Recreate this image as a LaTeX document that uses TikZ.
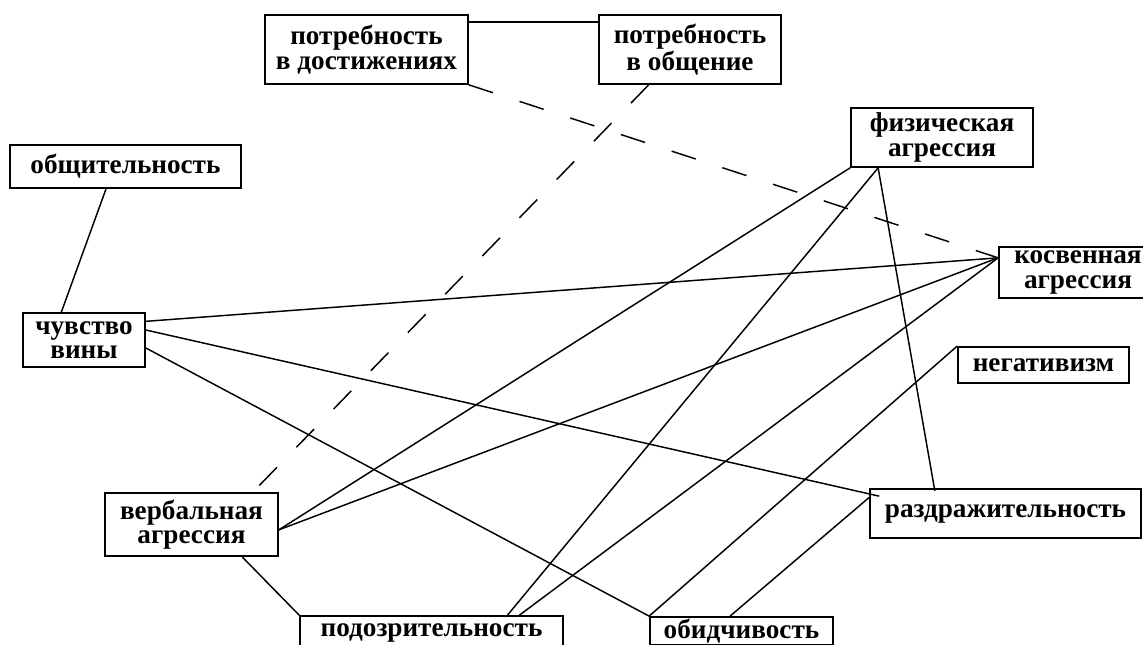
\documentclass[tikz,border=0pt]{standalone}
\usepackage{fontspec}
\setmainfont{Liberation Serif}
\usetikzlibrary{calc}

\begin{document}
\begin{tikzpicture}[
    x=0.75pt, y=-0.75pt,
    every node/.style = {font=\bfseries\fontsize{20.4}{18.5}\selectfont},
    box/.style      = {rectangle, draw, line width=1.3pt, align=center,
                       inner sep=0pt},
    solidlink/.style = {line width=1.1pt},
    dashedlink/.style = {line width=1.1pt, dash pattern=on 19pt off 21pt}
  ]
  \useasboundingbox (0,0) rectangle (1143,645);
  \clip (0,0) rectangle (1143,645);

  % boxes
  \node[box, minimum width=203*0.75pt, minimum height=69*0.75pt] (dost)  at (366.5,49.5) {потребность\\в достижениях};
  \node[box, minimum width=182*0.75pt, minimum height=69*0.75pt] (obsch) at (690,49.5)   {потребность\\в общение};
  \node[box, minimum width=231*0.75pt, minimum height=43*0.75pt] (obshit) at (125.5,166.5) {общительность};
  \node[box, minimum width=182*0.75pt, minimum height=59*0.75pt] (fiz)   at (942,137.5)  {физическая\\агрессия};
  \node[box, minimum width=158*0.75pt, minimum height=51*0.75pt] (kosv)  at (1078,272.5) {косвенная\\агрессия};
  \node[box, minimum width=122*0.75pt, minimum height=54*0.75pt] (vina)  at (84,340)     {чувство\\вины};
  \node[box, minimum width=171*0.75pt, minimum height=36*0.75pt] (neg)   at (1043.5,365) {негативизм};
  \node[box, minimum width=173*0.75pt, minimum height=63*0.75pt] (verb)  at (191.5,524.5) {вербальная\\агрессия};
  \node[box, minimum width=271*0.75pt, minimum height=49*0.75pt] (razd)  at (1005.5,513.5) {раздражительность};
  \node[box, minimum width=263*0.75pt, minimum height=34*0.75pt] (podoz) at (431.5,633)  {подозрительность};
  \node[box, minimum width=183*0.75pt, minimum height=28*0.75pt] (obid)  at (741.5,631)  {обидчивость};

  % shared ends
  \coordinate (kosvin)  at ([yshift=11pt]kosv.west);
  \coordinate (verbout) at ([yshift=-4pt]verb.east);
  \coordinate (fizout)  at ([xshift=21pt]fiz.south west);

  % links
  \draw[solidlink] ([yshift=-6pt]dost.north east) -- ([yshift=-6pt]obsch.north west);
  \draw[dashedlink] (dost.south east) -- (kosvin);
  \draw[dashedlink] ([xshift=-31pt]obsch.south) -- ([xshift=46pt]verb.north);
  \draw[solidlink] ([xshift=-14.6pt]obshit.south) -- ([xshift=-17pt]vina.north);
  \draw[solidlink] ([yshift=14pt]vina.east) -- (kosvin);
  \draw[solidlink] ([yshift=7.5pt]vina.east) -- ([xshift=7.5pt,yshift=-6pt]razd.north west);
  \draw[solidlink] ([yshift=-6pt]vina.east) -- (obid.north west);
  \draw[solidlink] (fiz.south west) -- (verbout);
  \draw[solidlink] (fizout) -- ([xshift=57pt]podoz.north);
  \draw[solidlink] (fizout) -- ([xshift=-53pt,yshift=-2pt]razd.north);
  \draw[solidlink] (kosvin) -- (verbout);
  \draw[solidlink] (kosvin) -- ([xshift=66pt]podoz.north);
  \draw[solidlink] (neg.north west) -- (obid.north west);
  \draw[solidlink] ([yshift=-7pt]razd.north west) -- ([xshift=-8.6pt]obid.north);
  \draw[solidlink] ([xshift=38pt]verb.south) -- (podoz.north west);

\end{tikzpicture}
\end{document}
